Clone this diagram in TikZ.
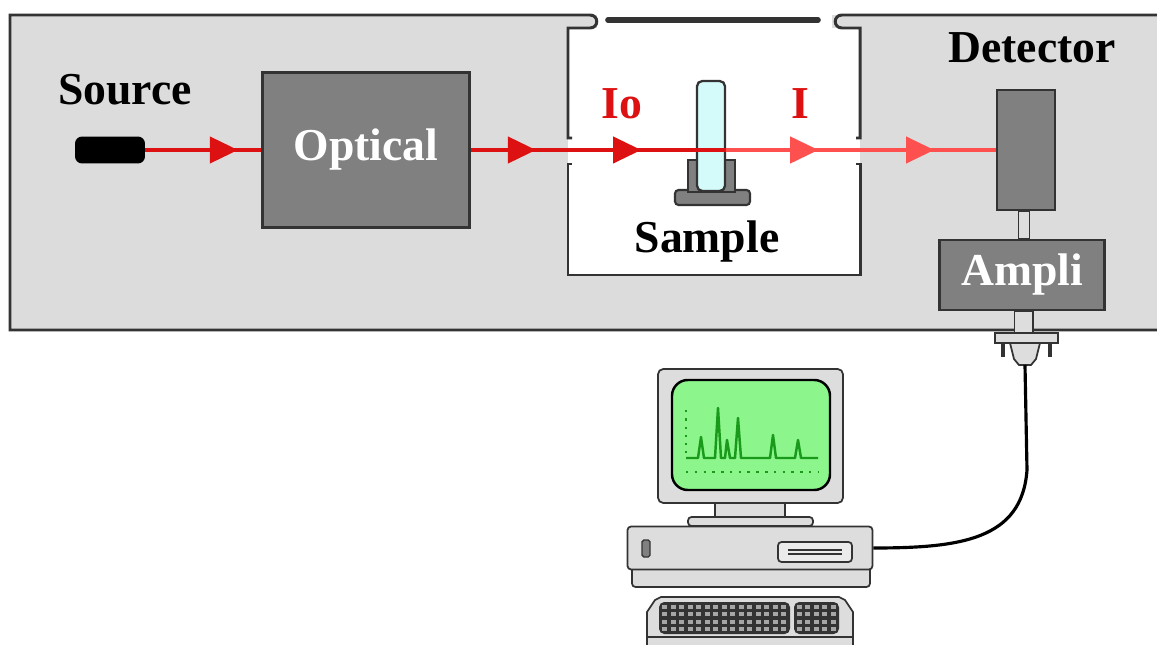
\documentclass[tikz,border=0pt]{standalone}
\usepackage{fontspec}
\setmainfont{Liberation Serif}
\usetikzlibrary{arrows.meta,decorations.markings}
\definecolor{panel}{HTML}{DCDCDC}
\definecolor{edge}{HTML}{333333}
\definecolor{boxgray}{HTML}{808080}
\definecolor{ray}{HTML}{DD1111}
\definecolor{raylight}{HTML}{FF5050}
\definecolor{glass}{HTML}{D4FAFA}
\definecolor{screen}{HTML}{8CF58C}
\definecolor{trace}{HTML}{1A9A1A}
\definecolor{case}{HTML}{DDDDDD}
\tikzset{unit/.style={draw=edge,line width=1.6pt,fill=boxgray,inner sep=0pt},
	wall/.style={draw=edge,line width=1.7pt},
	bigtext/.style={font=\bfseries\fontsize{26}{30}\selectfont,inner sep=0pt},
	beam/.style={line width=1.8pt,draw=#1,postaction={decorate}},
	tipat/.style={decoration={markings,
		mark=at position #1 with {\arrow{Triangle[length=16pt,width=15pt]}}}},
	tipsat/.style 2 args={decoration={markings,
		mark=at position #1 with {\arrow{Triangle[length=16pt,width=15pt]}},
		mark=at position #2 with {\arrow{Triangle[length=16pt,width=15pt]}}}},
	part/.style={draw=edge,line width=1pt,fill=case}}

\begin{document}
\begin{tikzpicture}[x=0.02cm,y=-0.02cm]
\useasboundingbox (0,0) rectangle (1157,645);
% housing with the open sample compartment
\fill[panel] (10,15) rectangle (1157,330);
\fill[white] (568,28) rectangle (860,275);
\fill[white] (597,10) rectangle (832,28);
\draw[wall] (1157,330) -- (10,330) -- (10,15) -- (590,15)
  .. controls (599,15) and (599,28) .. (590,28) -- (568,28) -- (568,138) -- (572,138);
\draw[wall] (572,164) -- (568,164) -- (568,275) -- (860,275) -- (860,164) -- (856,164);
\draw[wall] (856,138) -- (860,138) -- (860,28) -- (842,28)
  .. controls (833,28) and (833,15) .. (842,15) -- (1157,15);
\draw[edge,line width=3.2pt,line cap=round] (608,20) -- (818,20);

% source and optics
\node[fill=black,rounded corners=4pt,minimum width=1.4cm,minimum height=0.54cm] (src) at (110,150) {};
\node[bigtext] (srctext) at (125,90) {Source};
\node[unit,minimum width=4.14cm,minimum height=3.1cm] (optical) at (366,150) {};
\node[bigtext,text=white] at (optical) {Optical};

% cell holder and cuvette
\draw[draw=edge,line width=1.2pt,fill=gray,rounded corners=2pt] (675,190) rectangle (750,205);
\draw[draw=edge,line width=1.2pt,fill=gray] (688,160) rectangle (735,192);
\node[draw=edge,line width=1.3pt,fill=glass,rounded corners=3pt,minimum width=0.56cm,minimum height=2.2cm] (cuv) at (711,136) {};
\node[bigtext] (sample) at (707,242) {Sample};
\node[bigtext,text=ray] (io) at (622,104) {Io};
\node[bigtext,text=ray] (i) at (800,104) {I};

% detector and amplifier
\node[unit,minimum width=1.16cm,minimum height=2.4cm] (det) at (1026,150) {};
\node[bigtext] (dettext) at (1032,48) {Detector};
\node[unit,minimum width=3.3cm,minimum height=1.4cm] (amp) at (1022,275) {};
\node[bigtext,text=white] at (amp) {Ampli};
\draw[part] ([xshift=-0.15cm]det.south) rectangle ([xshift=0.15cm]amp.north);
\draw[part] ([xshift=-0.15cm]amp.south) rectangle (1033,333);

% plug under the housing
\draw[part] (995,333) rectangle (1058,343);
\draw[edge,line width=2.4pt] (1003,343) -- (1003,357) (1050,343) -- (1050,357);
\draw[part] (1010,343) -- (1040,343) -- (1036,359) -- (1031,365) -- (1019,365) -- (1014,359) -- cycle;
\coordinate (plug) at (1025,365);

% light path
\draw[beam=ray,tipat=0.8] (src.east) -- (optical.west);
\draw[beam=ray,tipsat={0.255}{0.667}] (optical.east) -- (optical.east -| cuv.east);
\draw[beam=raylight,tipsat={0.342}{0.772}] (optical.east -| cuv.east) -- (det.west);

% computer
\draw[part,rounded corners=3pt] (658,369) rectangle (843,503);
\draw[draw=black,line width=1.4pt,fill=screen,rounded corners=9pt] (672,380) rectangle (830,490);
\draw[trace,line width=1.4pt,line join=round] (686,458) -- (698,458) -- (701,437) -- (704,458)
  -- (715,458) -- (718,408) -- (721,458) -- (725,458) -- (727,440) -- (730,458)
  -- (735,458) -- (738,418) -- (741,458) -- (770,458) -- (773,435) -- (776,458)
  -- (795,458) -- (798,440) -- (801,458) -- (818,458);
\draw[trace,line width=1.4pt,dash pattern=on 1.4pt off 3.3pt] (686,410) -- (686,453);
\draw[trace,line width=1.4pt,dash pattern=on 1.4pt off 3.6pt] (686,472) -- (818,472);
\draw[part] (715,503) rectangle (785,517);
\draw[part,rounded corners=2pt] (688,517) rectangle (813,526);
\draw[part,rounded corners=2pt] (632,566) rectangle (870,587);
\node[part,rounded corners=2pt,minimum width=4.9cm,minimum height=0.86cm] (case) at (750,548) {};
\draw[draw=edge,fill=gray,line width=0.8pt,rounded corners=1pt] (642,540) rectangle (650,557);
\draw[draw=edge,fill=case!60!white,line width=1pt,rounded corners=2pt] (778,542) rectangle (852,562);
\draw[edge,line width=1pt] (788,550) -- (842,550) (788,554) -- (842,554);

% keyboard
\draw[part] (647,645) -- (647,612) -- (655,600) -- (661,597) -- (839,597) -- (845,600) -- (853,612) -- (853,645);
\draw[edge,line width=1pt] (647,637) -- (853,637);
\fill[edge,rounded corners=3pt] (659,602) rectangle (790,634);
\fill[edge,rounded corners=3pt] (794,602) rectangle (839,634);
\foreach \r in {0,...,3}{
  \foreach \c in {0,...,14}
    \fill[gray!70] ({662+\c*8.5},{605+\r*7.3}) rectangle ++(5,4);
  \foreach \c in {0,...,4}
    \fill[gray!70] ({797+\c*8.4},{605+\r*7.3}) rectangle ++(5,4);
}

% cable from the plug to the computer
\draw[black,line width=1.8pt] (plug) -- (1027,470) .. controls (1022,540) and (960,548) .. (case.east);
\end{tikzpicture}
\end{document}
